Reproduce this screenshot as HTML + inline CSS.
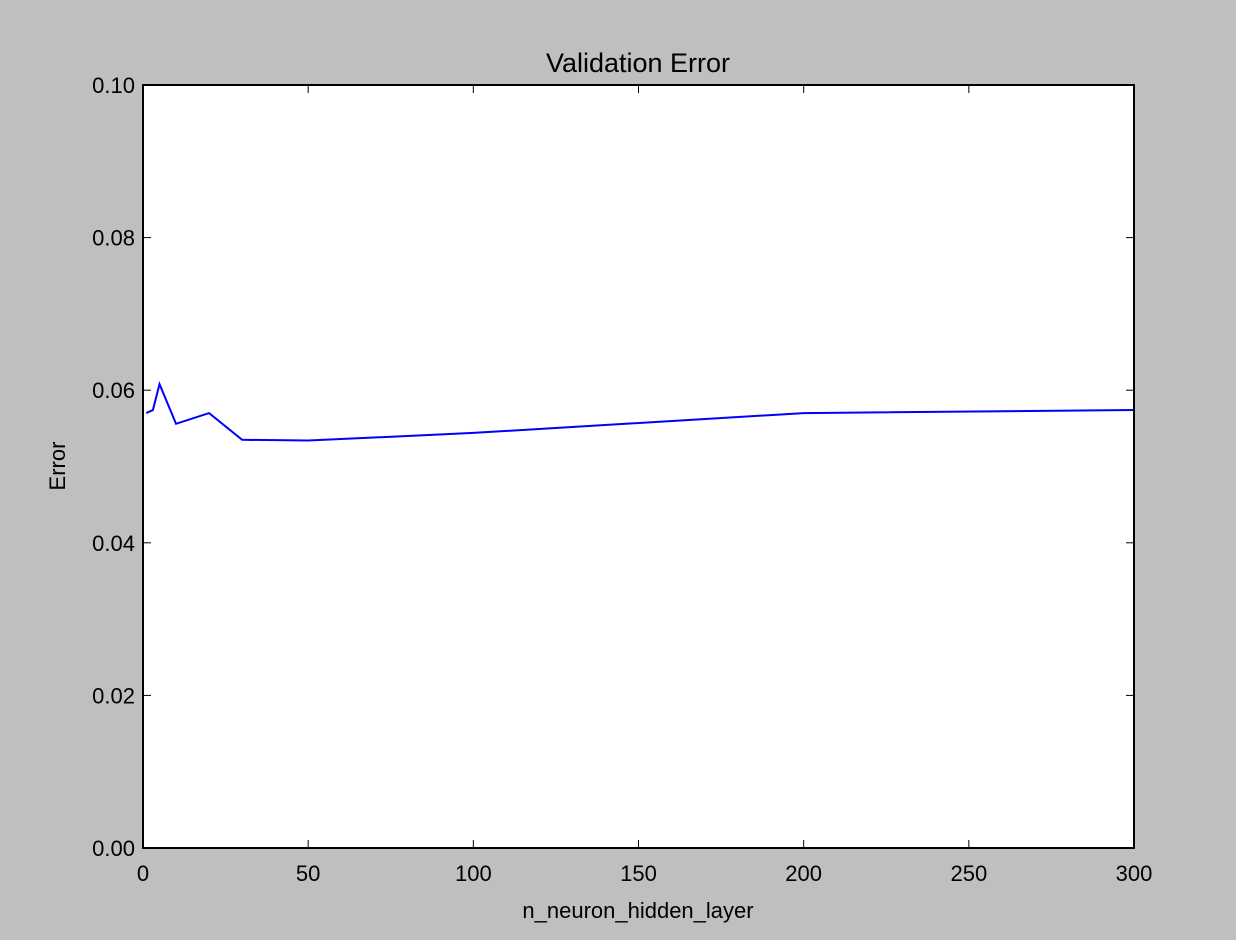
<!DOCTYPE html>
<html><head><meta charset="utf-8"><style>
html,body{margin:0;padding:0;background:#bfbfbf;}
svg{display:block;font-family:"Liberation Sans",Arial,sans-serif;}
</style></head><body>
<svg id="chart" width="1236" height="940">
<rect x="143" y="85" width="991" height="763" fill="#fff"/>
<g id="ticks"></g>
<polyline id="line" fill="none" stroke="#0000ff" stroke-width="2"/>
<rect x="143" y="85" width="991" height="763" fill="none" stroke="#000" stroke-width="2"/>
<text x="638" y="72" font-size="27" text-anchor="middle">Validation Error</text>
<text x="638" y="918" font-size="22" text-anchor="middle">n_neuron_hidden_layer</text>
<text transform="translate(65,466) rotate(-90)" font-size="22" text-anchor="middle">Error</text>
</svg>
<script>
const xs = [1, 3, 5, 10, 20, 30, 50, 100, 200, 300];
const errors = [0.0570, 0.0574, 0.0608, 0.0556, 0.0570, 0.0535, 0.0534, 0.0544, 0.0570, 0.0574];
const xTicks = [0, 50, 100, 150, 200, 250, 300];
const yTicks = [0, 0.02, 0.04, 0.06, 0.08, 0.10];
const yTickLabels = ["0.00", "0.02", "0.04", "0.06", "0.08", "0.10"];
const L=143,R=1134,T=85,B=848;
function sx(v){return L+(v-0)/(300-0)*(R-L);}
function sy(v){return B-(v-0)/(0.10-0)*(B-T);}
const ns="http://www.w3.org/2000/svg";
const g=document.getElementById('ticks');
function mk(tag,attrs){const e=document.createElementNS(ns,tag);for(const k in attrs)e.setAttribute(k,attrs[k]);return e;}
xTicks.forEach(v=>{
  const x=sx(v);
  const t1=mk('line',{x1:x,x2:x,y1:B,y2:B-8,stroke:'#000','stroke-width':1});
  
  
  g.appendChild(t1);
  const t2=mk('line',{x1:x,x2:x,y1:T,y2:T+8,stroke:'#000','stroke-width':1});
  
  
  g.appendChild(t2);
  const lb=mk('text',{x:x,y:B+33,'font-size':22,'text-anchor':'middle'});
  lb.textContent=v;
  
  
  g.appendChild(lb);
});
yTicks.forEach((v,i)=>{
  const y=sy(v);
  const t1=mk('line',{x1:L,x2:L+8,y1:y,y2:y,stroke:'#000','stroke-width':1});
  
  
  g.appendChild(t1);
  const t2=mk('line',{x1:R,x2:R-8,y1:y,y2:y,stroke:'#000','stroke-width':1});
  
  
  g.appendChild(t2);
  const lb=mk('text',{x:L-8,y:y+8,'font-size':22,'text-anchor':'end'});
  lb.textContent=yTickLabels[i];
  
  
  g.appendChild(lb);
});
document.getElementById('line').setAttribute('points',xs.map((x,i)=>sx(x)+','+sy(errors[i])).join(' '));
</script>
</body></html>
